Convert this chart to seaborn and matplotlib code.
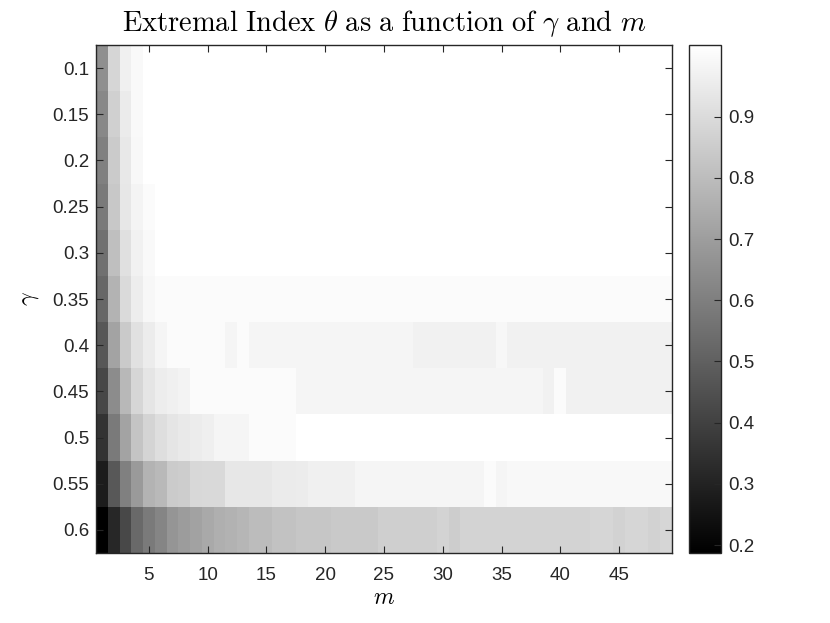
import numpy as np
import pandas as pd
import matplotlib
matplotlib.use('Agg')
import matplotlib.pyplot as plt
import seaborn as sns

# gamma rows (top to bottom) and m columns
gamma_vals = [0.1, 0.15, 0.2, 0.25, 0.3, 0.35, 0.4, 0.45, 0.5, 0.55, 0.6]
gamma_labels = ['0.1', '0.15', '0.2', '0.25', '0.3', '0.35', '0.4', '0.45', '0.5', '0.55', '0.6']
m_vals = list(range(1, 50))
m_ticks = [5, 10, 15, 20, 25, 30, 35, 40, 45]
cbar_ticks = [0.2, 0.3, 0.4, 0.5, 0.6, 0.7, 0.8, 0.9]

# extremal index estimates (m = 1..49)
theta_g010 = [0.652, 0.884, 0.968, 0.997] + [1.017] * 45
theta_g015 = [0.630, 0.864, 0.952, 0.997] + [1.017] * 45
theta_g020 = [0.604, 0.848, 0.942, 0.994] + [1.017] * 45
theta_g025 = [0.584, 0.838, 0.936, 0.981, 1.004] + [1.017] * 44
theta_g030 = [0.552, 0.809, 0.916, 0.971, 0.997] + [1.017] * 44
theta_g035 = [0.522, 0.770, 0.897, 0.958, 0.988] + [1.001] * 44
theta_g040 = ([0.470, 0.718, 0.845, 0.919, 0.955, 0.984] + [1.001] * 5 + [0.984] + [1.001]
              + [0.984] * 14 + [0.971] * 7 + [0.988] + [0.971] * 14)
theta_g045 = ([0.418, 0.643, 0.786, 0.884, 0.932, 0.958, 0.968, 0.978] + [1.001] * 9
              + [0.984] * 21 + [0.971] + [1.001] + [0.971] * 9)
theta_g050 = ([0.353, 0.584, 0.718, 0.825, 0.877, 0.910, 0.932, 0.945, 0.955, 0.965]
              + [0.984] * 3 + [1.001] * 4 + [1.017] * 32)
theta_g055 = ([0.278, 0.473, 0.604, 0.688, 0.770, 0.789, 0.848, 0.854, 0.890, 0.893, 0.893]
              + [0.936] * 4 + [0.952] * 2 + [0.955] + [0.968] * 4 + [0.984] * 11
              + [1.001] + [0.984] + [0.994] * 14)
theta_g060 = ([0.187, 0.314, 0.421, 0.529, 0.584, 0.620, 0.672, 0.695, 0.714, 0.737,
               0.757, 0.766, 0.779] + [0.799] * 2 + [0.818] * 2 + [0.831] * 3
              + [0.841] * 4 + [0.861] * 5 + [0.874] + [0.854] + [0.874] * 11
              + [0.884] * 2 + [0.871] + [0.884] * 2 + [0.871] + [0.884])

theta_rows = [theta_g010, theta_g015, theta_g020, theta_g025, theta_g030, theta_g035,
              theta_g040, theta_g045, theta_g050, theta_g055, theta_g060]

df = pd.DataFrame(theta_rows, index=gamma_labels, columns=m_vals)

plt.rcParams['font.family'] = ['Liberation Sans', 'DejaVu Sans']
plt.rcParams['mathtext.fontset'] = 'cm'

fig = plt.figure(figsize=(8.3, 6.23), dpi=100)
ax = fig.add_axes([96 / 830, 70 / 623, 576 / 830, 508 / 623])
cax = fig.add_axes([689 / 830, 70 / 623, 32 / 830, 508 / 623])

sns.heatmap(df, ax=ax, cbar_ax=cax, cmap='gray', vmin=0.187, vmax=1.017,
            xticklabels=False, yticklabels=False)

edge = '#262626'
for s in ax.spines.values():
    s.set_visible(True)
    s.set_color(edge)
    s.set_linewidth(1.0)

ax.set_xticks([m_vals.index(m) + 0.5 for m in m_ticks])
ax.set_xticklabels([str(m) for m in m_ticks])
ax.set_yticks(np.arange(len(gamma_vals)) + 0.5)
ax.set_yticklabels(gamma_labels, rotation=0)
ax.tick_params(direction='in', top=True, right=True, length=5, width=0.8,
               color=edge, labelsize=13.5, labelcolor='#262626')
ax.tick_params(axis='x', pad=10)
ax.tick_params(axis='y', pad=5)

ax.set_xlabel(r'$m$', fontsize=17, labelpad=2)
ax.set_ylabel(r'$\gamma$', fontsize=17, labelpad=8)
ax.set_title(r'$\mathrm{Extremal\ Index}\ \theta\ \mathrm{as\ a\ function\ of}\ \gamma\ \mathrm{and}\ m$',
             fontsize=20.5, pad=10)

cbar = ax.collections[0].colorbar
cbar.outline.set_linewidth(1.0)
cbar.outline.set_edgecolor(edge)
cbar.set_ticks(cbar_ticks)
cbar.set_ticklabels([f'{t:.1f}' for t in cbar_ticks])
cax.tick_params(direction='in', length=5, width=0.8, color=edge,
                labelsize=13.5, labelcolor='#262626', pad=5)

fig.savefig('out.png', dpi=100)
